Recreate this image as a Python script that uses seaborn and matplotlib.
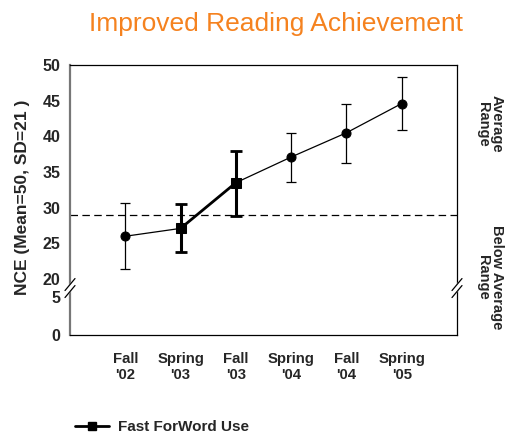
import numpy as np
import pandas as pd
import matplotlib
matplotlib.use("Agg")
import matplotlib.pyplot as plt
from matplotlib.lines import Line2D
import seaborn as sns

# ---- data ----
categories = ["Fall\n'02", "Spring\n'03", "Fall\n'03", "Spring\n'04", "Fall\n'04", "Spring\n'05"]
means = [26.0, 27.1, 33.5, 37.1, 40.5, 44.6]
err_low = [21.4, 23.8, 28.9, 33.6, 36.3, 40.9]
err_high = [30.7, 30.5, 38.0, 40.5, 44.6, 48.3]
ffw_idx = [1, 2]          # Fast ForWord use segment
threshold = 29
yticks = [0, 5, 20, 25, 30, 35, 40, 45, 50]
title = "Improved Reading Achievement"
ylabel = "NCE (Mean=50, SD=21 )"
legend_label = "Fast ForWord Use"

sns.set_style("white")
plt.rcParams['font.family'] = ['Liberation Sans', 'DejaVu Sans']

fig = plt.figure(figsize=(5.07, 4.33), dpi=100)
W, H = 507, 433
ax = fig.add_axes([70 / W, (H - 335) / H, (457 - 70) / W, (335 - 65) / H])

# broken y-scale: 0-5 below, 20-50 above
yp = np.array([-1000.0, 0.0, 5.0, 20.0, 1000.0])
up = np.array([-1064.0, 0.0, 5.32, 7.84, 987.84])
def fwd(y):
    return np.interp(y, yp, up)
def inv(u):
    return np.interp(u, up, yp)
ax.set_yscale('function', functions=(fwd, inv))

x = np.arange(len(categories))
df = pd.DataFrame({"x": x, "y": means})
means_a = np.array(means)
lo = means_a - np.array(err_low)
hi = np.array(err_high) - means_a

# thin series
sns.lineplot(data=df, x="x", y="y", ax=ax, color="black", lw=0.9,
             marker="o", markersize=6.5, markeredgecolor="black", zorder=3)
ax.errorbar(x, means_a, yerr=[lo, hi], fmt="none", ecolor="black",
            elinewidth=0.9, capsize=3.6, capthick=0.9, zorder=2)

# Fast ForWord thick series
dff = df.iloc[ffw_idx]
sns.lineplot(data=dff, x="x", y="y", ax=ax, color="black", lw=2.0,
             marker="s", markersize=7.5, markeredgecolor="black", zorder=4)
ax.errorbar(x[ffw_idx], means_a[ffw_idx], yerr=[lo[ffw_idx], hi[ffw_idx]],
            fmt="none", ecolor="black", elinewidth=2.2, capsize=4.5,
            capthick=2.0, zorder=4)

ax.axhline(threshold, color="black", lw=0.9, ls=(0, (6, 3.5)), zorder=1)

ax.set_xlim(-1, len(categories))
ax.set_ylim(0, 50)
ax.set_xticks(np.arange(-1, len(categories) + 1))
ax.set_xticklabels([""] + categories + [""])
ax.set_yticks(yticks)
ax.set_yticklabels([str(t) for t in yticks])
ax.minorticks_off()
ax.tick_params(axis="both", which="major", direction="out", length=4,
               width=0.9, color="black")
ax.tick_params(axis="x", pad=8, labelsize=10.7)
ax.tick_params(axis="y", pad=3, labelsize=11.5)
for lab in ax.get_xticklabels() + ax.get_yticklabels():
    lab.set_fontweight("bold")
ax.set_xlabel("")
ax.set_ylabel(ylabel, fontsize=12.5, fontweight="bold")
ax.yaxis.set_label_coords(-(70 - 30) / (457 - 70), (335 - 197) / (335 - 65))

for s in ["top", "right", "bottom"]:
    ax.spines[s].set_color("black")
    ax.spines[s].set_linewidth(0.9)
ax.spines["left"].set_color("#777777")
ax.spines["left"].set_linewidth(1.6)

# break marks
axh = 335 - 65
axw = 457 - 70
ub = (5.32 + 7.84) / 2 / 37.84
for xf in (0.0, 1.0):
    dx = 5 / axw
    dy = 6 / axh
    gap = 3.5 / axh
    ax.fill([xf - dx, xf + dx, xf + dx, xf - dx],
            [ub - gap - dy, ub - gap + dy, ub + gap + dy, ub + gap - dy],
            color="white", transform=ax.transAxes, clip_on=False, zorder=5)
    for off in (-gap, gap):
        ax.plot([xf - dx, xf + dx], [ub + off - dy, ub + off + dy],
                color="black", lw=0.9, transform=ax.transAxes,
                clip_on=False, zorder=6)

# right-side range labels
fig.text(490 / W, 1 - 124 / H, "Average\nRange", rotation=-90, ha="center",
         va="center", fontsize=10.5, fontweight="bold", linespacing=1.0)
fig.text(490 / W, 1 - 277 / H, "Below Average\nRange", rotation=-90,
         ha="center", va="center", fontsize=10.5, fontweight="bold",
         linespacing=1.0)

# title
fig.text(276 / W, 1 - 24 / H, title, ha="center", va="center", fontsize=19,
         color="#F5821F")

# legend
handle = Line2D([0], [0], color="black", lw=2.0, marker="s", markersize=6)
fig.legend([handle], [legend_label], loc="center left",
           bbox_to_anchor=(72 / W, 1 - 427 / H), frameon=False,
           prop={"weight": "bold", "size": 11}, handlelength=2.2,
           handletextpad=0.6, borderaxespad=0, borderpad=0.2)

fig.savefig("out.png", dpi=100)
